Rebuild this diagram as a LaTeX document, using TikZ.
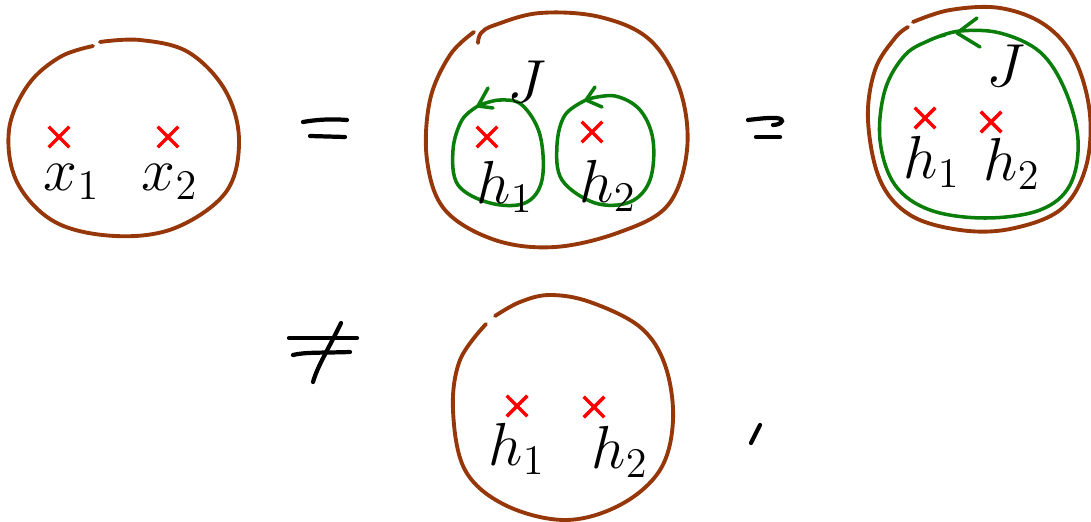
\documentclass[tikz,border=0pt]{standalone}
\usetikzlibrary{shapes.misc}
\definecolor{rimcol}{RGB}{150,55,10}
\definecolor{loopcol}{RGB}{10,125,10}
\tikzset{
    rim/.style={draw=rimcol, line width=1.1pt, line cap=round, line join=round},
    loopline/.style={draw=loopcol, line width=1pt, line cap=round, line join=round},
    pen/.style={draw=black, line width=1.2pt, line cap=round},
    insertion/.style={cross out, draw=red, line width=1pt, minimum size=0.17cm, inner sep=0pt},
    lbl/.style={font=\LARGE, inner sep=0pt}
}
\begin{document}
\begin{tikzpicture}[x=0.01cm, y=-0.01cm]
        \useasboundingbox (0,0) rectangle (1091,521);
        % discs
            \draw[rim] plot[smooth, tension=0.6] coordinates {(100,42) (140,40) (188,52) (225,90) (239,140) (226,192) (175,228) (115,236) (55,222) (17,182) (9,130) (28,85) (60,57) (93,46)};
            \draw[rim] plot[smooth, tension=0.6] coordinates {(474,32) (450,55) (430,100) (427,160) (445,210) (495,240) (555,247) (620,232) (668,205) (687,150) (680,90) (650,40) (600,17) (540,13) (495,25) (481,33) (478,43)};
            \draw[rim] plot[smooth, tension=0.6] coordinates {(913,22) (950,10) (1000,8) (1045,25) (1075,60) (1090,115) (1085,170) (1060,210) (1010,229) (960,230) (910,215) (880,180) (868,120) (875,70) (895,38) (908,27)};
            \draw[rim] plot[smooth, tension=0.6] coordinates {(495,316) (520,302) (550,295) (590,302) (640,327) (665,365) (673,420) (660,470) (620,505) (565,520) (505,505) (465,470) (453,410) (460,360) (486,324)};
        % contours
            \draw[loopline] plot[smooth, tension=0.6] coordinates {(478,106) (462,120) (453,150) (458,185) (490,203) (525,203) (542,180) (540,135) (522,105) (500,100) (480,105)};
            \draw[loopline] plot[smooth, tension=0.6] coordinates {(586,100) (565,115) (557,145) (562,180) (595,203) (630,202) (650,180) (653,140) (640,110) (615,96) (588,99)};
            \draw[loopline] plot[smooth, tension=0.6] coordinates {(935,38) (960,31) (1000,33) (1040,52) (1065,90) (1078,140) (1070,185) (1040,210) (985,218) (930,210) (895,185) (880,140) (885,90) (905,55) (930,40) (945,35)};
            \foreach \t/\u/\v in {{(478,106)}/{(488,88)}/{(493,108)},{(586,100)}/{(595,87)}/{(602,107)},{(957,33)}/{(977,18)}/{(980,47)}}{
                \draw[loopline] \u -- \t -- \v;
            }
        % insertions
            \foreach \n/\x/\y in {a1/59/137,a2/168/137,b1/487/137,b2/592/132,c1/925/118,c2/991/122,d1/517/406,d2/594/407}{
                \node[insertion] (\n) at (\x,\y) {};
            }
        % labels
            \node[lbl] (xa) at (72,182) {\(x_1\)};
            \node[lbl] (xb) at (170,182) {\(x_2\)};
            \foreach \n/\x/\y/\s in {hb1/505/187/1,hb2/608/186/2,hc1/932/162/1,hc2/1012/164/2,hd1/517/449/1,hd2/620/452/2}{
                \node[lbl] (\n) at (\x,\y) {\(h_\s\)};
            }
            \node[lbl] (jb) at (527,82) {\(J\)};
            \node[lbl] (jc) at (1006,66) {\(J\)};
        % relations
            \draw[pen] (303,122) .. controls (320,119) and (335,119) .. (347,120);
            \draw[pen] (310,136) -- (345,137);
            \draw[pen] (748,120) .. controls (765,118) and (782,116) .. (782,121) .. controls (781,124) and (776,125) .. (773,125);
            \draw[pen] (756,137) -- (780,137);
            \draw[pen] (289,338) -- (357,338);
            \draw[pen] (293,355) .. controls (305,352) and (320,353) .. (350,352);
            \draw[pen] (341,323) .. controls (328,350) and (318,365) .. (313,382);
            \draw[pen] (760,425) -- (751,443);
\end{tikzpicture}
\end{document}
